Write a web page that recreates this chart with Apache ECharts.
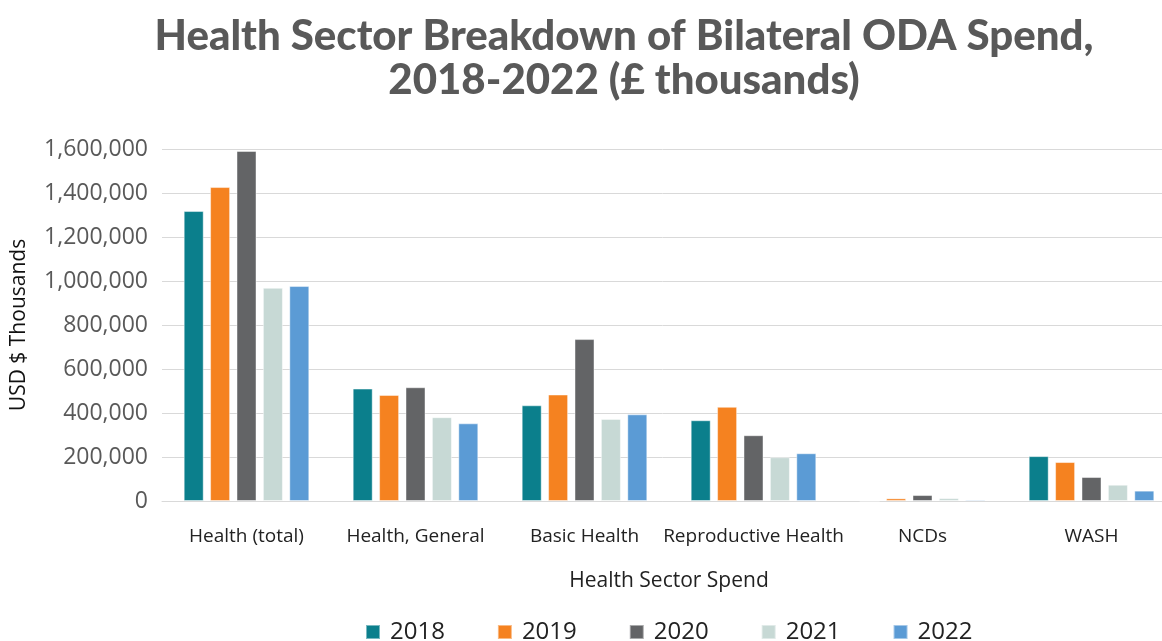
<!DOCTYPE html>
<html>
<head>
<meta charset="utf-8">
<script src="https://cdn.jsdelivr.net/npm/echarts@6/dist/echarts.min.js"></script>
<style>
  html, body { margin: 0; padding: 0; background: #ffffff; }
  #chart { width: 1162px; height: 641px; }
</style>
</head>
<body>
<div id="chart"></div>
<script>
// Health sector categories and yearly bilateral ODA spend (thousands)
const categories = ['Health (total)', 'Health, General', 'Basic Health', 'Reproductive Health', 'NCDs', 'WASH'];
const years = ['2018', '2019', '2020', '2021', '2022'];
const spend2018 = [1318000, 511000, 435000, 367000, 0, 204000];
const spend2019 = [1427000, 482000, 484000, 428000, 12000, 177000];
const spend2020 = [1591000, 517000, 736000, 299000, 27000, 109000];
const spend2021 = [969000, 381000, 373000, 199000, 13000, 74000];
const spend2022 = [977000, 353000, 394000, 217000, 6000, 47000];
const yearColors = ['#0B7F8C', '#F58220', '#636466', '#C7D9D5', '#5B9BD5'];

const seriesValues = [spend2018, spend2019, spend2020, spend2021, spend2022];

const chart = echarts.init(document.getElementById('chart'));

const series = years.map((y, i) => ({
  name: y,
  type: 'bar',
  data: seriesValues[i],
  barWidth: 20,
  barGap: '32%',
  itemStyle: {
    color: yearColors[i],
    borderColor: 'rgba(255,255,255,0.45)',
    borderWidth: 1
  }
}));

chart.setOption({
  animation: false,
  color: yearColors,
  title: {
    text: 'Health Sector Breakdown of Bilateral ODA Spend,\n2018-2022 (£ thousands)',
    left: 619,
    top: 9,
    textAlign: 'center',
    textStyle: {
      fontFamily: 'Lato',
      fontWeight: 900,
      fontSize: 42,
      lineHeight: 44,
      color: '#595959'
    }
  },
  // the plot runs slightly past the right edge of the canvas
  grid: {
    left: 162,
    width: 1014,
    top: 149,
    bottom: 140,
    outerBoundsMode: 'none',
    containLabel: false
  },
  legend: {
    data: years,
    left: 360,
    top: 615,
    itemWidth: 14,
    itemHeight: 14,
    itemGap: 52,
    icon: 'rect',
    textStyle: {
      fontFamily: 'Open Sans',
      fontSize: 24,
      color: '#222222',
      padding: [0, 0, 0, 5]
    }
  },
  xAxis: {
    type: 'category',
    data: categories,
    name: 'Health Sector Spend',
    nameLocation: 'middle',
    nameGap: 70,
    nameTextStyle: {
      fontFamily: 'Open Sans',
      fontSize: 21,
      color: '#222222'
    },
    axisLine: { lineStyle: { color: '#d9d9d9' } },
    axisTick: { show: false },
    axisLabel: {
      margin: 26,
      interval: 0,
      fontFamily: 'Open Sans',
      fontSize: 19,
      color: '#222222'
    }
  },
  yAxis: {
    type: 'value',
    min: 0,
    max: 1600000,
    interval: 200000,
    name: 'USD $ Thousands',
    nameLocation: 'middle',
    nameGap: 132,
    nameTextStyle: {
      fontFamily: 'Open Sans',
      fontSize: 21,
      color: '#111111'
    },
    axisLine: { show: false },
    axisTick: { show: false },
    splitLine: { lineStyle: { color: '#d9d9d9', width: 1 } },
    axisLabel: {
      margin: 14,
      fontFamily: 'Open Sans',
      fontSize: 23,
      color: '#595959',
      formatter: v => v.toLocaleString('en-US')
    }
  },
  series: series
});
</script>
</body>
</html>
